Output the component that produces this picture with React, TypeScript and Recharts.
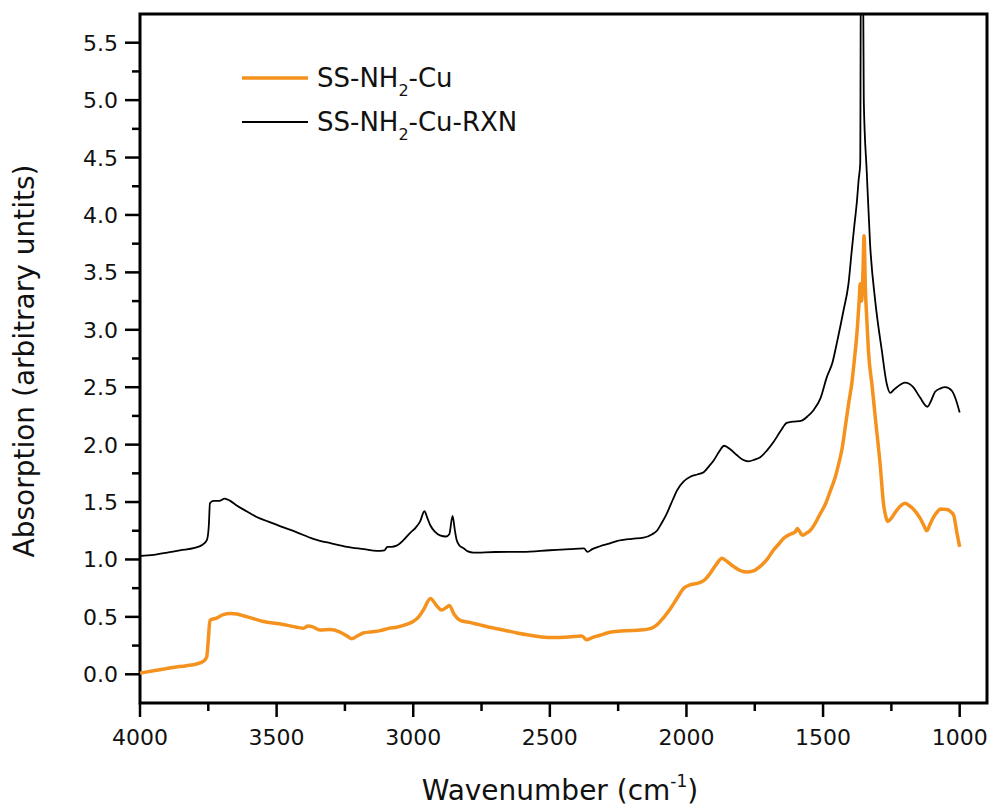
import { LineChart, Line, XAxis, YAxis, ReferenceArea } from "recharts";

const FONT = "'DejaVu Sans', Verdana, sans-serif";
const ORANGE = "#f5921e";

// x ticks (wavenumber, cm-1)
const xMajorTicks = [4000, 3500, 3000, 2500, 2000, 1500, 1000];
const xMinorTicks = [3750, 3250, 2750, 2250, 1750, 1250];
// y ticks (absorption)
const yMajorTicks = [0, 0.5, 1, 1.5, 2, 2.5, 3, 3.5, 4, 4.5, 5, 5.5];
const yMinorTicks = [0.25, 0.75, 1.25, 1.75, 2.25, 2.75, 3.25, 3.75, 4.25, 4.75, 5.25];

// SS-NH2-Cu (orange)
const cuWavenumber = [
  4000, 3940, 3878, 3830, 3793, 3770, 3756, 3750, 3744, 3720, 3695, 3670, 3645,
  3622, 3585, 3548, 3490, 3426, 3402, 3385, 3370, 3341, 3304, 3270, 3240, 3225,
  3200, 3183, 3150, 3121, 3090, 3061, 3030, 3000, 2980, 2963, 2937, 2915, 2896,
  2880, 2868, 2850, 2828, 2790, 2755, 2710, 2670, 2620, 2572, 2530, 2487, 2430,
  2383, 2365, 2345, 2316, 2290, 2267, 2220, 2169, 2130, 2108, 2085, 2059, 2035,
  2010, 1985, 1949, 1930, 1913, 1890, 1870, 1850, 1828, 1800, 1779, 1755, 1730,
  1705, 1682, 1660, 1646, 1620, 1602, 1594, 1585, 1575, 1560, 1548, 1530, 1510,
  1490, 1473, 1455, 1443, 1430, 1419, 1405, 1395, 1385, 1376, 1368, 1364, 1359,
  1354, 1350, 1345, 1340, 1334, 1320, 1309, 1290, 1279, 1270, 1264, 1250, 1236,
  1215, 1200, 1185, 1170, 1145, 1130, 1120, 1108, 1095, 1080, 1070, 1046, 1030,
  1022, 1010, 1000,
];
const cuAbsorption = [
  0.01, 0.035, 0.06, 0.075, 0.09, 0.11, 0.15, 0.3, 0.47, 0.49, 0.52, 0.53, 0.525,
  0.51, 0.485, 0.46, 0.44, 0.41, 0.4, 0.42, 0.415, 0.385, 0.39, 0.37, 0.33, 0.31,
  0.34, 0.36, 0.37, 0.38, 0.4, 0.41, 0.43, 0.46, 0.5, 0.56, 0.66, 0.6, 0.56,
  0.58, 0.6, 0.52, 0.47, 0.45, 0.43, 0.405, 0.385, 0.36, 0.34, 0.325, 0.32, 0.325,
  0.333, 0.3, 0.32, 0.34, 0.36, 0.37, 0.38, 0.385, 0.4, 0.43, 0.49, 0.57, 0.66,
  0.75, 0.78, 0.8, 0.83, 0.88, 0.96, 1.01, 0.98, 0.94, 0.9, 0.89, 0.9, 0.94,
  1.0, 1.08, 1.14, 1.18, 1.22, 1.24, 1.27, 1.24, 1.21, 1.23, 1.25, 1.31, 1.4,
  1.49, 1.6, 1.72, 1.83, 1.97, 2.15, 2.38, 2.53, 2.75, 2.97, 3.25, 3.4, 3.25,
  3.5, 3.82, 3.35, 3.1, 2.82, 2.5, 2.24, 1.8, 1.49, 1.37, 1.33, 1.36, 1.41,
  1.47, 1.49, 1.47, 1.44, 1.36, 1.29, 1.25, 1.31, 1.37, 1.42, 1.44, 1.435, 1.41,
  1.385, 1.23, 1.11,
];

// SS-NH2-Cu-RXN (black)
const rxnWavenumber = [
  4000, 3950, 3900, 3854, 3800, 3770, 3755, 3748, 3744, 3732, 3710, 3690, 3670,
  3646, 3610, 3573, 3530, 3488, 3430, 3366, 3300, 3243, 3180, 3133, 3105, 3095,
  3080, 3061, 3035, 3012, 2990, 2975, 2959, 2948, 2938, 2920, 2902, 2880, 2868,
  2856, 2848, 2841, 2830, 2817, 2800, 2780, 2700, 2600, 2500, 2426, 2375, 2362,
  2345, 2316, 2280, 2255, 2200, 2157, 2125, 2108, 2090, 2072, 2050, 2035, 2010,
  1986, 1960, 1937, 1915, 1901, 1880, 1862, 1840, 1816, 1795, 1773, 1750, 1730,
  1705, 1682, 1655, 1633, 1610, 1578, 1555, 1535, 1510, 1486, 1465, 1450, 1425,
  1407, 1395, 1385, 1376, 1370, 1364, 1361, 1355, 1351, 1340, 1328, 1309, 1285,
  1267, 1254, 1240, 1230, 1200, 1185, 1170, 1145, 1118, 1105, 1090, 1070, 1053,
  1029, 1015, 1000,
];
const rxnAbsorption = [
  1.03, 1.04, 1.06, 1.08, 1.1, 1.13, 1.17, 1.3, 1.49, 1.51, 1.51, 1.53, 1.51,
  1.47, 1.42, 1.37, 1.33, 1.29, 1.24, 1.18, 1.14, 1.11, 1.09, 1.075, 1.08, 1.11,
  1.11, 1.12, 1.17, 1.23, 1.28, 1.33, 1.42, 1.36, 1.3, 1.24, 1.21, 1.2, 1.22,
  1.38, 1.26, 1.17, 1.12, 1.1, 1.07, 1.06, 1.065, 1.066, 1.08, 1.09, 1.096, 1.066,
  1.09, 1.115, 1.14, 1.16, 1.18, 1.19, 1.22, 1.25, 1.32, 1.4, 1.52, 1.6, 1.68,
  1.72, 1.74, 1.76, 1.82, 1.86, 1.94, 1.99, 1.96, 1.91, 1.87, 1.855, 1.87, 1.89,
  1.95, 2.02, 2.12, 2.19, 2.2, 2.21, 2.25, 2.3, 2.4, 2.59, 2.72, 2.88, 3.17,
  3.4, 3.69, 3.92, 4.12, 4.3, 4.45, 6.6, 6.6, 5.0, 4.37, 3.75, 3.25, 2.82,
  2.53, 2.45, 2.48, 2.5, 2.54, 2.53, 2.5, 2.41, 2.33, 2.38, 2.46, 2.49, 2.5,
  2.47, 2.4, 2.28,
];

const cuData = cuWavenumber.map((w, i) => ({ w, a: cuAbsorption[i] }));
const rxnData = rxnWavenumber.map((w, i) => ({ w, a: rxnAbsorption[i] }));

const isMajorY = (v: number) => Math.abs(v * 2 - Math.round(v * 2)) < 1e-6;

function XTick(props: any) {
  const { x, y, payload } = props;
  const major = xMajorTicks.includes(payload.value);
  return (
    <g>
      <line x1={x} x2={x} y1={y} y2={y + (major ? 14 : 8)} stroke="#000" strokeWidth={2.5} />
      {major && (
        <text x={x} y={y + 42} textAnchor="middle" fontSize={22} fontFamily={FONT} fill="#111">
          {payload.value}
        </text>
      )}
    </g>
  );
}

function YTick(props: any) {
  const { x, y, payload } = props;
  const major = isMajorY(payload.value);
  return (
    <g>
      <line x1={x - (major ? 15 : 8)} x2={x} y1={y} y2={y} stroke="#000" strokeWidth={2.5} />
      {major && (
        <text x={x - 22} y={y + 8} textAnchor="end" fontSize={22} fontFamily={FONT} fill="#111">
          {payload.value.toFixed(1)}
        </text>
      )}
    </g>
  );
}

export default function App() {
  return (
    <div style={{ position: "absolute", left: 0, top: 0, width: 990, height: 807, background: "#fff" }}>
      <LineChart width={990} height={807} margin={{ top: 14, right: 3, bottom: 0, left: 0 }}>
        <XAxis
          dataKey="w"
          type="number"
          domain={[900, 4000]}
          reversed
          ticks={[...xMajorTicks, ...xMinorTicks]}
          interval={0}
          tick={<XTick />}
          tickLine={false}
          axisLine={false}
          tickSize={0}
          tickMargin={0}
          height={104}
          allowDuplicatedCategory={false}
        />
        <YAxis
          type="number"
          domain={[-0.25, 5.75]}
          allowDataOverflow
          ticks={[...yMajorTicks, ...yMinorTicks]}
          interval={0}
          tick={<YTick />}
          tickLine={false}
          axisLine={false}
          tickSize={0}
          tickMargin={0}
          width={140}
        />
        <Line
          data={cuData}
          dataKey="a"
          type="monotone"
          stroke={ORANGE}
          strokeWidth={3.5}
          dot={false}
          isAnimationActive={false}
        />
        <Line
          data={rxnData}
          dataKey="a"
          type="monotone"
          stroke="#000"
          strokeWidth={1.8}
          dot={false}
          isAnimationActive={false}
        />
        <ReferenceArea
          x1={4000}
          x2={900}
          y1={-0.25}
          y2={5.75}
          fill="none"
          fillOpacity={0}
          stroke="#000"
          strokeWidth={3}
          strokeOpacity={1}
        />
      </LineChart>
      <svg
        width={990}
        height={807}
        style={{ position: "absolute", left: 0, top: 0, pointerEvents: "none" }}
      >
        {/* legend */}
        <line x1={242} x2={308} y1={78} y2={78} stroke={ORANGE} strokeWidth={3.5} />
        <text x={317} y={87} fontSize={26} fontFamily={FONT} fill="#111">
          SS-NH<tspan fontSize={16} dy={9}>2</tspan>
          <tspan dy={-9}>-Cu</tspan>
        </text>
        <line x1={242} x2={308} y1={122} y2={122} stroke="#000" strokeWidth={1.8} />
        <text x={317} y={131} fontSize={26} fontFamily={FONT} fill="#111">
          SS-NH<tspan fontSize={16} dy={9}>2</tspan>
          <tspan dy={-9}>-Cu-RXN</tspan>
        </text>
        {/* axis titles */}
        <text x={560} y={800} textAnchor="middle" fontSize={28} fontFamily={FONT} fill="#111">
          Wavenumber (cm<tspan fontSize={17} dy={-13}>-1</tspan>
          <tspan dy={13}>)</tspan>
        </text>
        <text
          transform="translate(34,361) rotate(-90)"
          textAnchor="middle"
          fontSize={28}
          fontFamily={FONT}
          fill="#111"
        >
          Absorption (arbitrary untits)
        </text>
      </svg>
    </div>
  );
}
